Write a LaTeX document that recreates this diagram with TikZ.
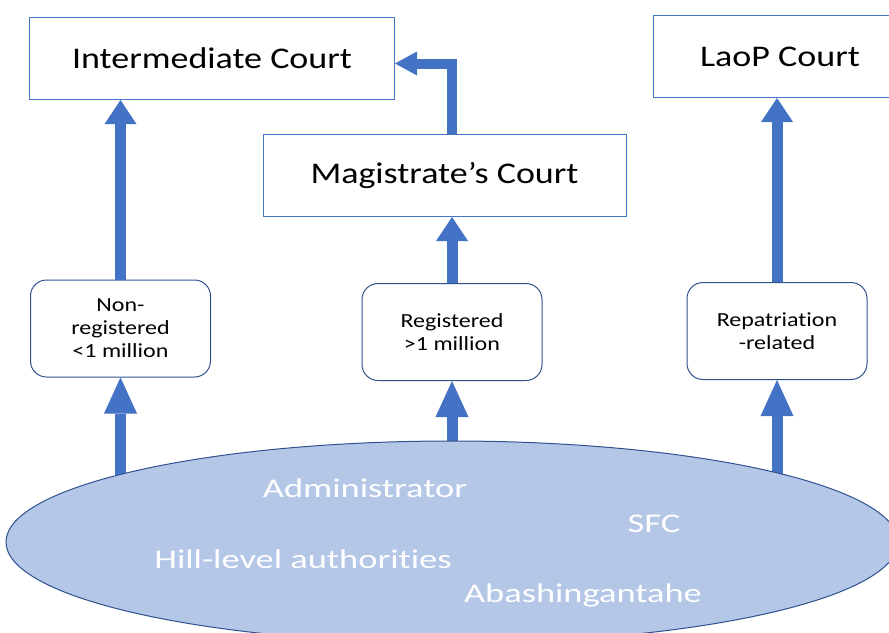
\documentclass[tikz,border=0pt]{standalone}
\usepackage{fontspec}
\setmainfont{Carlito}[FakeStretch=1.2,Ligatures=NoCommon]
\newfontfamily\ellfont{Carlito}[FakeStretch=1.35,Ligatures=NoCommon]
\usetikzlibrary{arrows.meta,shapes.geometric,backgrounds}
\definecolor{arrowblue}{HTML}{4472C4}
\definecolor{edgeblue}{HTML}{2F528F}
\definecolor{ellfill}{HTML}{B4C7E7}
\tikzset{
  court/.style={draw=arrowblue, line width=1pt, fill=white, minimum height=82pt, inner sep=0pt, font=\fontsize{30}{36}\selectfont},
  route/.style={draw=edgeblue, line width=1pt, fill=white, rounded corners=16pt, minimum width=180pt, minimum height=97pt, align=center, font=\fontsize{20}{23}\selectfont},
  uparrow/.style={draw=arrowblue, line width=11pt, -{Triangle[length=24pt,width=32pt,line width=0pt]}},
  lowarrow/.style={uparrow, -{Triangle[length=36pt,width=33pt,line width=0pt]}},
  actor/.style={text=white, font=\ellfont\fontsize{27}{32}\selectfont}
}
\begin{document}
\begin{tikzpicture}[x=1pt,y=-1pt]
\useasboundingbox (0,0) rectangle (889,632);
% courts
\node[court, minimum width=365pt] (inter) at (212,58.5) {Intermediate Court};
\node[court, minimum width=363pt] (magis) at (444.5,175.5) {Magistrate’s Court};
\node[court, minimum width=254pt] (laop) at (780,56.5) {LaoP Court};
% case types
\node[route] (nonreg) at (120.5,328.5) {Non-\\registered\\<1 million};
\node[route] (reg) at (452,332) {Registered\\>1 million};
\node[route] (repat) at (777,331) {Repatriation\\-related};
% local actors
\node[ellipse, draw=edgeblue, fill=ellfill, line width=1pt, minimum width=892pt, minimum height=202pt, inner sep=0pt] (ell) at (452,542) {};
\node[actor] (admin) at (365,488) {Administrator};
\node[actor] (sfc) at (654,524) {SFC};
\node[actor] (hill) at (303,559) {Hill-level authorities};
\node[actor] (abash) at (583,595) {Abashingantahe};
% arrows
\begin{scope}[on background layer]
\draw[lowarrow] (nonreg.south |- ell.center) -- (nonreg.south);
\draw[lowarrow] (reg.south |- ell.center) -- (reg.south);
\draw[lowarrow] (repat.south |- ell.center) -- (repat.south);
\end{scope}
\draw[uparrow] (nonreg.north) -- (nonreg.north |- inter.south);
\draw[uparrow] (reg.north) -- (reg.north |- magis.south);
\draw[uparrow] (repat.north) -- (repat.north |- laop.south);
\draw[uparrow, line width=10pt, -{Triangle[length=22pt,width=24pt,line width=0pt]}] (magis.north -| reg.north) |- ([yshift=-5pt]inter.east);
\end{tikzpicture}
\end{document}
